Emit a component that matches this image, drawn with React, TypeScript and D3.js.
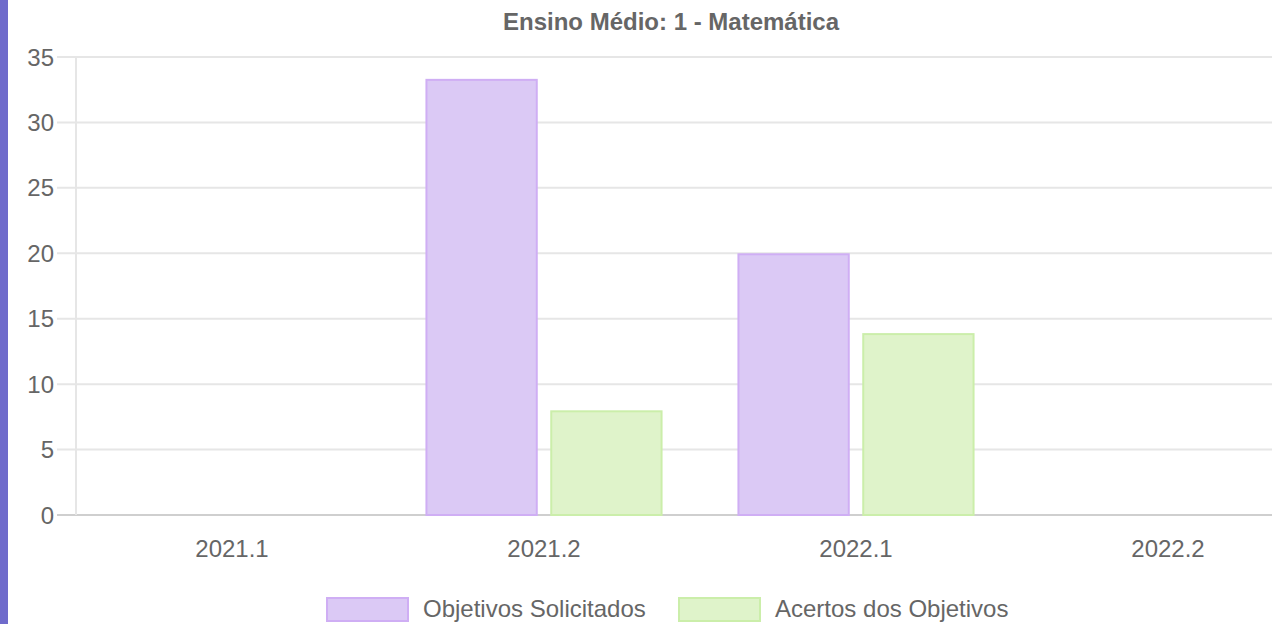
import React from 'react';
import * as d3 from 'd3';

// chart data
const periods = ['2021.1', '2021.2', '2022.1', '2022.2'];
const seriesNames = ['Objetivos Solicitados', 'Acertos dos Objetivos'];
const solicitados = [0, 33.33, 20, 0];
const acertos = [0, 8, 13.9, 0];
const yTicks = [0, 5, 10, 15, 20, 25, 30, 35];
const title = 'Ensino Médio: 1 - Matemática';

const fills = ['#dbc9f5', '#dff3ca'];
const strokes = ['#cfaef4', '#cbeeaa'];

const W = 1272;
const H = 624;
const FONT = '"Liberation Sans", Arial, sans-serif';

export default function App() {
  const margin = { top: 57, left: 76, bottom: 515 };
  // the canvas is wider than the window, so the last category runs off the right edge
  const x0 = d3.scaleBand<string>().domain(periods).range([margin.left, 1324]);
  const x1 = d3
    .scaleBand<string>()
    .domain(seriesNames)
    .range([0, x0.bandwidth()])
    .paddingInner(0.1)
    .paddingOuter(0.3);
  const y = d3.scaleLinear().domain([0, 35]).range([margin.bottom, margin.top]);

  const values = [solicitados, acertos];

  return (
    <div style={{ position: 'fixed', left: 0, top: 0, width: W, height: H, background: '#fff' }}>
      <svg width={W} height={H} style={{ display: 'block' }} fontFamily={FONT}>
        <rect x={0} y={0} width={8} height={H} fill="#6f6bcb" />

        <text x={671} y={30} textAnchor="middle" fontSize={24} fontWeight="bold" fill="#666">
          {title}
        </text>

        {/* horizontal grid + tick marks */}
        {yTicks.map((t) => (
          <g key={t}>
            <line
              x1={57}
              x2={W}
              y1={y(t)}
              y2={y(t)}
              stroke={t === 0 ? '#cfcfcf' : '#e6e6e6'}
              strokeWidth={2}
            />
            <text x={54} y={y(t) + 8.5} textAnchor="end" fontSize={24} fill="#666">
              {t}
            </text>
          </g>
        ))}
        <line x1={margin.left} x2={margin.left} y1={y(35)} y2={y(0)} stroke="#e6e6e6" strokeWidth={2} />

        {/* bars */}
        {periods.map((p, i) => (
          <g key={p} transform={`translate(${x0(p)},0)`}>
            {seriesNames.map((s, k) => {
              const v = values[k][i];
              if (!v) return null;
              return (
                <rect
                  key={s}
                  x={x1(s)! + 1}
                  y={y(v) + 1}
                  width={x1.bandwidth() - 2}
                  height={y(0) - y(v) - 1}
                  fill={fills[k]}
                  stroke={strokes[k]}
                  strokeWidth={2}
                />
              );
            })}
          </g>
        ))}

        {/* x labels */}
        {periods.map((p) => (
          <text
            key={p}
            x={x0(p)! + x0.bandwidth() / 2}
            y={557}
            textAnchor="middle"
            fontSize={24}
            fill="#666"
          >
            {p}
          </text>
        ))}

        {/* legend */}
        {seriesNames.map((s, k) => {
          const lx = [326, 678][k];
          return (
            <g key={s}>
              <rect x={lx + 1} y={598} width={81} height={23} fill={fills[k]} stroke={strokes[k]} strokeWidth={2} />
              <text x={lx + 97} y={617} fontSize={24} fill="#666">
                {s}
              </text>
            </g>
          );
        })}
      </svg>
    </div>
  );
}
